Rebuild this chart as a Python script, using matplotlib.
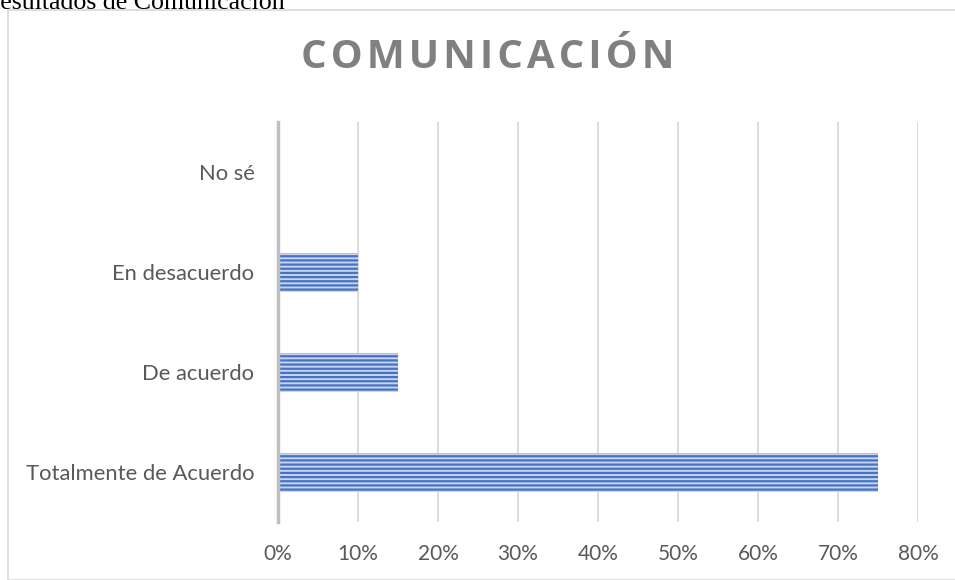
import matplotlib.pyplot as plt
import matplotlib.patches as mpatches
from matplotlib.ticker import FuncFormatter

# categories bottom to top, share of answers (%)
categories = ["Totalmente de Acuerdo", "De acuerdo", "En desacuerdo", "No sé"]
values = [75, 15, 10, 0]
xticks = [0, 10, 20, 30, 40, 50, 60, 70, 80]

plt.rcParams["font.family"] = ["Lato", "DejaVu Sans"]
plt.rcParams["hatch.linewidth"] = 1.6

fig = plt.figure(figsize=(9.55, 5.8), dpi=100)

# chart frame
frame = mpatches.Rectangle((8 / 955, 0), 2.0, 1 - 10 / 580, transform=fig.transFigure,
                           fill=False, edgecolor="#D9D9D9", linewidth=1.2)
fig.patches.append(frame)

# caption cut off at the top of the page
fig.text(-17 / 955, 1 - 9 / 580, "Resultados de Comunicación", family="Liberation Serif",
         fontsize=18.6, color="black", ha="left", va="baseline")

ax = fig.add_axes([278 / 955, 58 / 580, 640 / 955, 400 / 580])
ax.barh(range(len(categories)), values, height=0.39, facecolor="#C9D5EE",
        edgecolor="#4472C4", hatch="----", linewidth=0, zorder=3)

ax.set_xlim(0, 80)
ax.set_ylim(-0.5, len(categories) - 0.5)
ax.set_xticks(xticks)
ax.xaxis.set_major_formatter(FuncFormatter(lambda v, p: "{0:.0f}%".format(v)))
ax.set_yticks(range(len(categories)))
ax.set_yticklabels(categories)
ax.tick_params(axis="both", length=0, labelcolor="#595959")
ax.tick_params(axis="x", pad=16, labelsize=15)
ax.tick_params(axis="y", pad=17, labelsize=15.8)

ax.grid(axis="x", color="#D9D9D9", linewidth=1.3, zorder=0)
ax.set_axisbelow(True)
for s in ["top", "right", "bottom"]:
    ax.spines[s].set_visible(False)
ax.spines["left"].set_color("#BFBFBF")
ax.spines["left"].set_linewidth(2.5)
ax.spines["left"].set_zorder(4)

fig.text(488 / 955, 1 - 57 / 580, "\u200a".join("COMUNICACIÓN"), family=["Open Sans", "DejaVu Sans"],
         fontsize=29, fontweight="bold", color="#808080", ha="center", va="center")

fig.savefig("out.png", dpi=100)
